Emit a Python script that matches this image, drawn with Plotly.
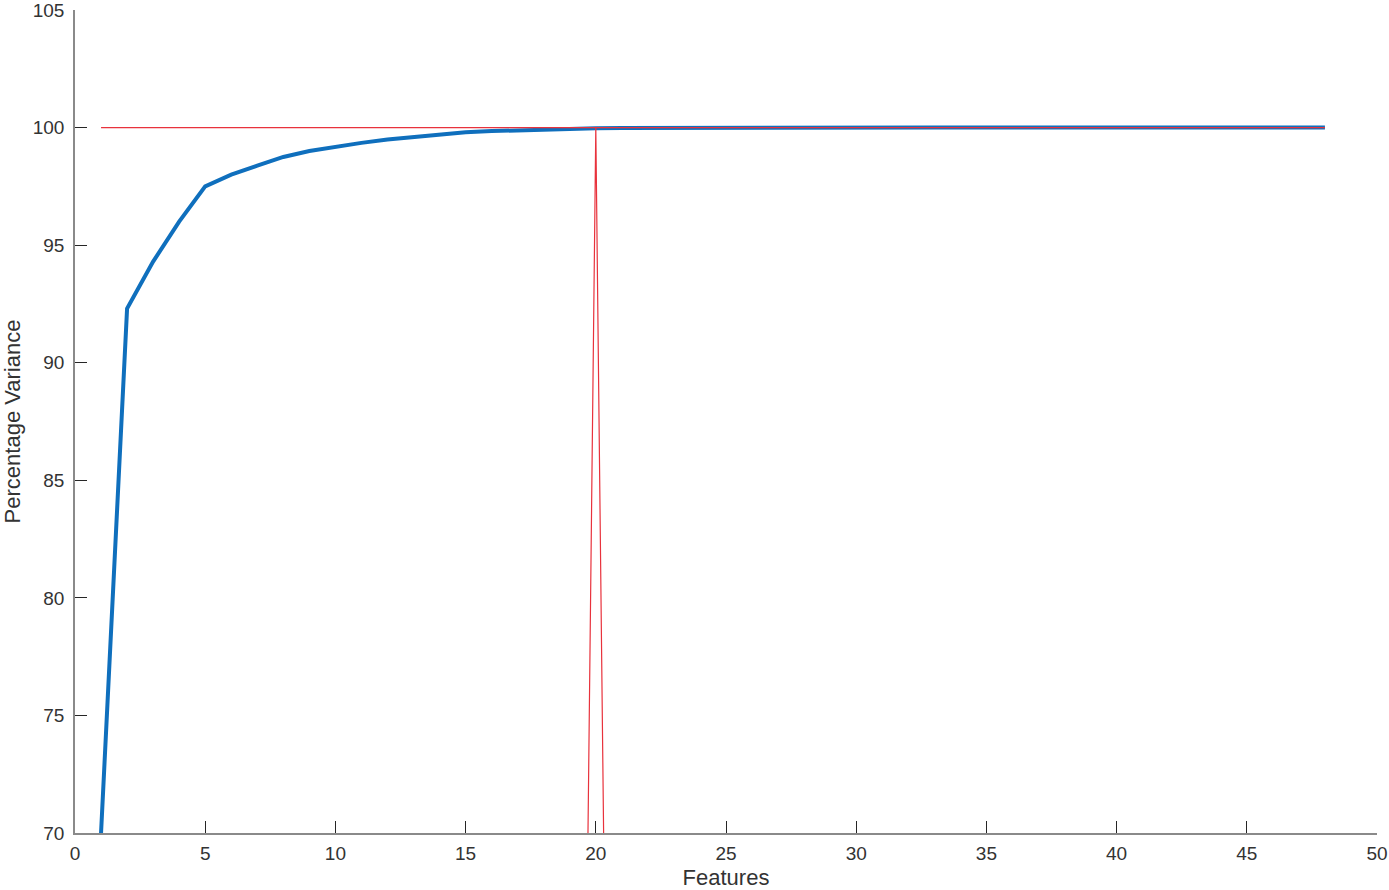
import plotly.graph_objects as go

features = list(range(1, 49))
variance = [70.0, 92.3, 94.3, 96.0, 97.5, 98.0, 98.38, 98.75, 99.0, 99.18,
            99.35, 99.49, 99.6, 99.7, 99.8, 99.85, 99.89, 99.92, 99.95, 99.97,
            99.98, 99.985, 99.99, 99.993, 99.995, 99.996, 99.997, 99.998, 99.998, 99.999,
            99.999, 99.999, 100.0, 100.0, 100.0, 100.0, 100.0, 100.0, 100.0, 100.0,
            100.0, 100.0, 100.0, 100.0, 100.0, 100.0, 100.0, 100.0]

thresh_x = [1, 48]
thresh_y = [100, 100]
marker_x = [19, 20, 21]
marker_y = [0, 100, 0]

fig = go.Figure()
fig.add_trace(go.Scatter(x=features, y=variance, mode="lines",
                         line=dict(color="#0f6fbd", width=4), showlegend=False))
fig.add_trace(go.Scatter(x=thresh_x, y=thresh_y, mode="lines",
                         line=dict(color="#e8323c", width=1.2), showlegend=False))
fig.add_trace(go.Scatter(x=marker_x, y=marker_y, mode="lines",
                         line=dict(color="#e8323c", width=1.2), showlegend=False))

font_family = "Liberation Sans, Arial, sans-serif"
axis_common = dict(showgrid=False, zeroline=False, showline=True, linecolor="#8a8a8a",
                   linewidth=1.5, ticks="inside", ticklen=12, tickcolor="#262626",
                   tickfont=dict(family=font_family, size=19, color="#333333"),
                   mirror=False, automargin=False, ticklabeloverflow="allow")
fig.update_xaxes(range=[0, 50], dtick=5, tick0=0, ticklabelstandoff=2,
                 title=dict(text="Features", standoff=14,
                            font=dict(family=font_family, size=22, color="#333333")),
                 **axis_common)
fig.update_yaxes(range=[70, 105], dtick=5, tick0=70, ticklabelstandoff=5,
                 title=dict(text="Percentage Variance", standoff=14,
                            font=dict(family=font_family, size=22, color="#333333")),
                 **axis_common)
fig.update_layout(width=1389, height=890, plot_bgcolor="white", paper_bgcolor="white",
                  margin=dict(l=75, r=12, t=10, b=57))
fig.write_html("out.html", config={"displayModeBar": False},
               post_script="document.body.style.margin='0';")
